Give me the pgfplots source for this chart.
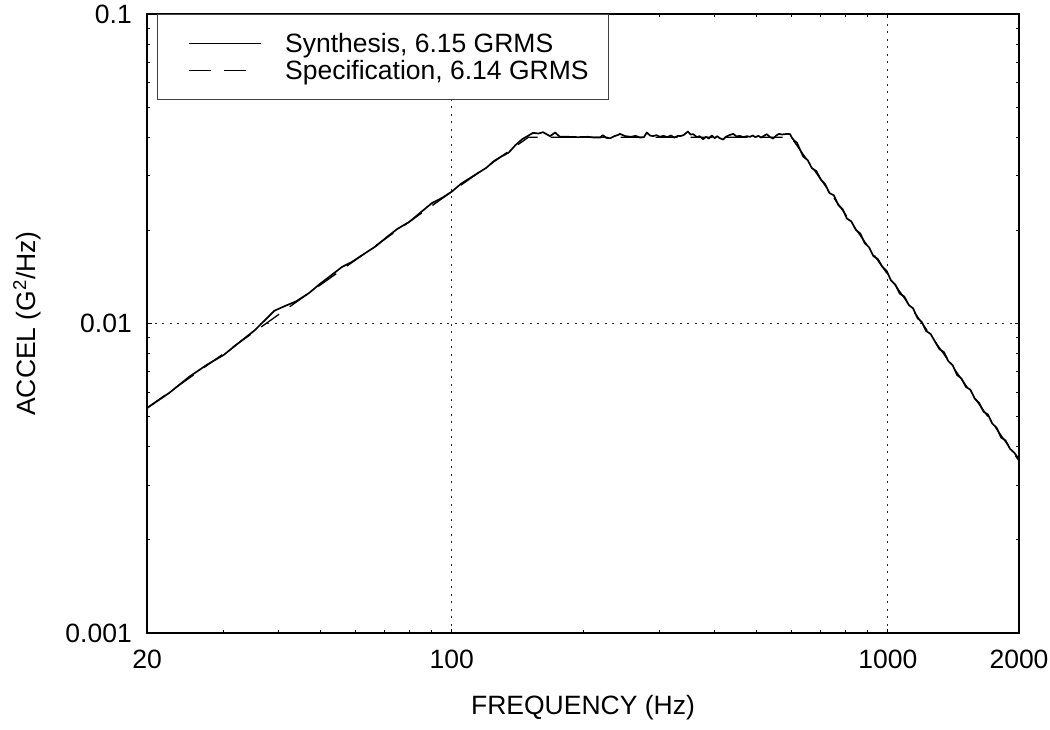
\documentclass[border=0pt]{standalone}
\usepackage{fontspec}
\setmainfont{Liberation Sans}
\usepackage{pgfplots}
\pgfplotsset{compat=1.18}
\newcommand{\chartfont}{\fontsize{26.5}{31}\selectfont}
\pgfplotsset{
  synimg/.style={legend image code/.code={\path (0pt,0pt); \draw[##1] (11pt,0pt) -- (83pt,0pt);}},
  specimg/.style={legend image code/.code={\path (0pt,0pt); \draw[##1] (11pt,0pt) -- (73pt,0pt);}},
}
\begin{document}
\begin{tikzpicture}[font=\chartfont]
\useasboundingbox (0pt,0pt) rectangle (1050pt,730pt);
\begin{axis}[
  at={(147pt,97pt)}, anchor=south west,
  scale only axis, width=872pt, height=619pt,
  xmode=log, ymode=log,
  xmin=20, xmax=2000, ymin=0.001, ymax=0.1,
  xtick={20,100,1000,2000}, xticklabels={20,100,1000,2000},
  minor xtick={30,40,50,60,70,80,90,200,300,400,500,600,700,800,900},
  ytick={0.001,0.01,0.1}, yticklabels={0.001,0.01,0.1},
  minor ytick={0.002,0.003,0.004,0.005,0.006,0.007,0.008,0.009,0.02,0.03,0.04,0.05,0.06,0.07,0.08,0.09},
  tick align=inside,
  major tick length=4.5pt, minor tick length=3pt,
  every tick/.style={black, line width=0.9pt},
  axis line style={line width=1.8pt},
  grid=major,
  major grid style={dash pattern=on 2pt off 5.5pt, line width=1pt, black!85},
  /pgf/number format/assume math mode=true,
  xticklabel style={inner sep=0pt, anchor=north, yshift=-17pt, font=\chartfont},
  yticklabel style={inner sep=0pt, anchor=east, xshift=-15pt, font=\chartfont},
  xlabel={FREQUENCY (Hz)},
  ylabel={ACCEL (G\textsuperscript{2}/Hz)},
  xlabel style={at={(axis description cs:0.5,-0.1309)}, anchor=base, font=\chartfont},
  ylabel style={at={(axis description cs:-0.1284,0.5)}, anchor=base, font=\chartfont},
  legend cell align=left,
  legend style={at={(axis description cs:0.01147,1)}, anchor=north west,
    draw=black!75, line width=1pt, fill=white,
    inner xsep=20pt, inner ysep=13.5pt, row sep=-4pt, column sep=23pt,
    nodes={inner sep=0pt, text height=24.5pt, text depth=6.5pt, font=\chartfont}},
]
\addplot[black, line width=1.7pt, line join=round, synimg]
coordinates {
(20,0.00533) (22.5,0.00597) (25,0.00673) (27.5,0.00737) (30,0.00792) (32.5,0.00867)
(35.3,0.00950) (39.2,0.01100) (41.5,0.01140) (44,0.01180) (47,0.01253) (50,0.01347)
(53,0.01434) (56,0.01523) (59,0.01581) (63,0.01680) (67,0.01778) (71,0.01903)
(75,0.02020) (80,0.02133) (85,0.02290) (90,0.02448) (95,0.02546) (100,0.02667)
(105,0.02828) (110,0.02948) (115,0.03067) (120,0.03184) (125,0.03350) (130,0.03467)
(135,0.03564) (140,0.03770) (145,0.03940) (150,0.04050)
(153.6,0.0413) (158,0.0411) (161.9,0.0415) (165,0.0409) (168,0.0403) (172.6,0.0414)
(177,0.0401) (185,0.0401) (195,0.0400) (205,0.0401) (212,0.0399) (219,0.0399)
(222,0.0406) (226,0.0398) (231,0.0397) (236,0.0403) (241,0.0407) (243,0.0410)
(250,0.0403) (258,0.0401) (264,0.0404) (270,0.0399) (276,0.0400) (280,0.0414)
(285,0.0405) (289,0.0403) (295,0.0406) (300,0.0401) (306,0.0404) (312,0.0400)
(318,0.0405) (324,0.0399) (330,0.0404) (334,0.0403) (340,0.0406) (348,0.0417)
(353,0.0408) (358,0.0409) (365,0.0400) (370,0.0403) (377,0.0394) (383,0.0401)
(389,0.0396) (395,0.0405) (401,0.0397) (406,0.0403) (412,0.0397) (419,0.0393)
(425,0.0401) (433,0.0406) (442,0.0410) (450,0.0402) (458,0.0404) (466,0.0400)
(475,0.0403) (483,0.0401) (490,0.0405) (497,0.0400) (505,0.0404) (512,0.0399)
(520,0.0404) (528,0.0409) (537,0.0400) (546,0.0396) (555,0.0405) (563,0.0410)
(572,0.0408) (580,0.0409) (590,0.0410) (597,0.0409) (603,0.0398) (610,0.0390)
(619,0.0384)
(625,0.03723) (640,0.03463) (655,0.03373) (670,0.03176) (686,0.03106) (702,0.02922)
(718,0.02821) (735,0.02639) (752,0.02597) (770,0.02417) (788,0.02342) (806,0.02183)
(825,0.02137) (845,0.02007) (865,0.01953) (885,0.01820) (906,0.01763) (927,0.01651)
(949,0.01615) (971,0.01527) (994,0.01479) (1017,0.01378) (1041,0.01335) (1066,0.01248)
(1091,0.01222) (1117,0.01148) (1143,0.01119) (1170,0.01041) (1197,0.01010) (1225,0.00945)
(1254,0.00925) (1284,0.00873) (1314,0.00826) (1345,0.00808) (1377,0.00756) (1409,0.00733)
(1442,0.00682) (1476,0.00664) (1511,0.00624) (1547,0.00611) (1583,0.00572) (1620,0.00554)
(1658,0.00519) (1697,0.00508) (1737,0.00475) (1778,0.00460) (1820,0.00428) (1863,0.00419)
(1907,0.00394) (1952,0.00382) (2000,0.00364)
};
\addlegendentry{Synthesis, 6.15 GRMS}
\addplot[black, line width=1.3pt, dash pattern=on 22pt off 13pt, specimg]
coordinates {(20,0.005333) (150,0.04) (600,0.04) (2000,0.0036)};
\addlegendentry{Specification, 6.14 GRMS}
\end{axis}
\end{tikzpicture}
\end{document}
